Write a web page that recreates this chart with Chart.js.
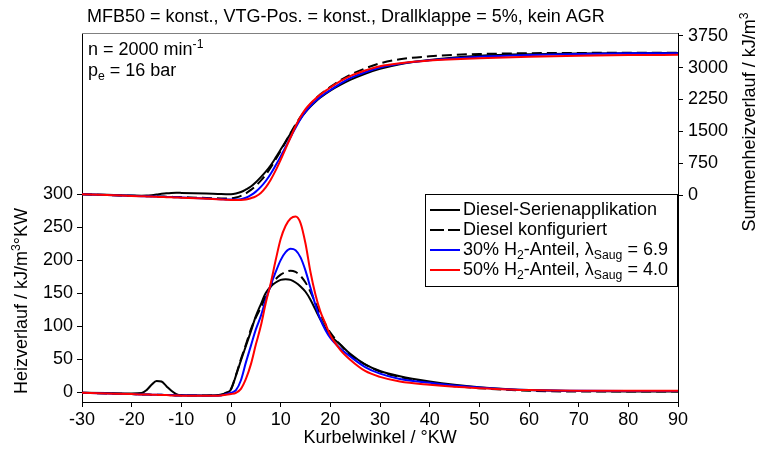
<!DOCTYPE html>
<html>
<head>
<meta charset="utf-8">
<script src="https://cdn.jsdelivr.net/npm/chart.js@4.4.0/dist/chart.umd.min.js"></script>
<style>
	html, body { margin: 0; padding: 0; background: #fff; }
</style>
</head>
<body>
<canvas id="mycanvas" width="760" height="454"></canvas>
<script>
// Kurbelwinkel / °KW
var angle = [-30,-25,-20,-18,-17,-16,-15,-14,-13,-12,-11,-10,-5,-2,-1,0,1,2,3,4,5,6,7,8,9,10,11,12,13,14,15,16,17,18,19,20,22,24,27,30,34,40,45,50,60,70,80,90];

// Heizverlauf / kJ/m3°KW (linke Achse)
var hrSerie = [-1,-1.5,-2,-1.5,3,11,17,16,9,2,-3,-4.5,-5,-4,-1,4,25,48,70,92,115,133,150,160,166,170,171,170,166,160,152,140,125,110,97,86,72,58,42,32,24,16,11,7.5,3,1.5,1,1];
var hrKonfig = [-1,-2,-3,-3.5,-3.5,-4,-4,-4,-4.5,-4.5,-5,-5,-5,-4,-1,5,26,50,72,95,113,128,145,160,171,178,182,184,182,176,166,152,135,118,103,90,72,56,42,31,23,14,9,6,2,1,1,1];
var hr30 = [-1,-2,-3,-3.5,-3.5,-4,-4,-4,-4.5,-4.5,-5,-5,-5.5,-5,-3,-1,3,18,45,70,95,115,140,162,182,200,212,217,215,204,184,158,132,110,94,82,66,54,38,28,20,14,10,7,3,2,1.5,1.5];
var hr50 = [-1,-2,-3,-3.5,-3.5,-4,-4,-4.5,-4.5,-5,-5,-5.5,-5.5,-5,-4,-3,-1,5,20,42,72,100,135,165,200,232,252,263,266,256,225,182,148,122,104,86,64,49,32,23,16,11,8,6,3,2,2,2];

// Summenheizverlauf / kJ/m3 (rechte Achse)
var sumSerie = [15,5,-10,-15,-14,-5,10,28,42,50,52,50,35,22,20,20,35,70,130,200,300,420,550,700,880,1070,1260,1450,1630,1800,1950,2080,2195,2295,2380,2455,2590,2710,2855,2970,3080,3180,3240,3280,3315,3330,3340,3345];
var sumKonfig = [15,0,-18,-24,-27,-30,-33,-36,-40,-43,-46,-50,-70,-80,-82,-80,-60,-20,40,120,220,340,480,650,840,1040,1250,1460,1660,1840,2000,2140,2265,2370,2460,2545,2700,2830,2980,3100,3195,3265,3300,3320,3338,3345,3350,3352];
var sum30 = [15,0,-20,-27,-30,-34,-37,-41,-44,-48,-52,-56,-80,-98,-104,-108,-108,-98,-65,-5,80,190,330,500,700,910,1130,1360,1580,1790,1960,2095,2210,2310,2395,2470,2620,2750,2890,3000,3090,3170,3220,3255,3295,3320,3335,3340];
var sum50 = [15,0,-22,-30,-34,-38,-42,-46,-50,-54,-58,-62,-88,-105,-112,-118,-120,-118,-105,-75,-30,50,180,360,580,830,1090,1360,1620,1840,2020,2155,2265,2365,2450,2530,2680,2800,2930,3030,3100,3165,3195,3220,3255,3280,3295,3300];

var xTicks = [-30,-20,-10,0,10,20,30,40,50,60,70,80,90];
var yTicks = [0,50,100,150,200,250,300];
var y2Ticks = [0,750,1500,2250,3000,3750];

var legendLabels = [
	[{t: "Diesel-Serienapplikation"}],
	[{t: "Diesel konfiguriert"}],
	[{t: "30% H"}, {t: "2", s: "sub"}, {t: "-Anteil, \u03bb"}, {t: "Saug", s: "sub"}, {t: " = 6.9"}],
	[{t: "50% H"}, {t: "2", s: "sub"}, {t: "-Anteil, \u03bb"}, {t: "Saug", s: "sub"}, {t: " = 4.0"}]
];
var titleText = "MFB50 = konst., VTG-Pos. = konst., Drallklappe = 5%, kein AGR";

var FONT = '"Liberation Sans", Arial, sans-serif';
var FS = 18;
var colors = ["#000000", "#000000", "#0000ff", "#ff0000"];
var dashes = [[], [10, 5], [], []];

function pts(ys) {
	var out = [];
	for (var i in angle) {
		out.push({x: angle[i], y: ys[i]});
	}
	return out;
}

function ds(label, ys, k, axis) {
	return {
		label: label,
		data: pts(ys),
		yAxisID: axis,
		borderColor: colors[k],
		borderWidth: 2,
		borderDash: dashes[k],
		pointRadius: 0,
		fill: false,
		cubicInterpolationMode: 'monotone',
		order: 3 - k
	};
}

function richWidth(ctx, parts, size) {
	var w = 0;
	parts.forEach(function(p) {
		ctx.font = (p.s ? size * 0.68 : size) + 'px ' + FONT;
		w += ctx.measureText(p.t).width;
	});
	return w;
}

function richText(ctx, parts, x, y, size) {
	ctx.textAlign = 'left';
	ctx.textBaseline = 'middle';
	parts.forEach(function(p) {
		var fs = p.s ? size * 0.68 : size;
		var dy = p.s == 'sub' ? size * 0.32 : (p.s == 'sup' ? -size * 0.32 : 0);
		ctx.font = fs + 'px ' + FONT;
		ctx.fillText(p.t, x, y + dy);
		x += ctx.measureText(p.t).width;
	});
	return x;
}

function rotText(ctx, parts, cx, cy, size) {
	var w = richWidth(ctx, parts, size);
	ctx.save();
	ctx.translate(cx, cy);
	ctx.rotate(-Math.PI / 2);
	richText(ctx, parts, -w / 2, 0, size);
	ctx.restore();
}

var textPlugin = {
	id: 'texte',
	afterDatasetsDraw: function(chart) {
		var ctx = chart.ctx;
		var a = chart.chartArea;
		ctx.save();
		ctx.fillStyle = '#000';

		// oberer Rahmen
		ctx.strokeStyle = '#808080';
		ctx.lineWidth = 1;
		ctx.beginPath();
		ctx.moveTo(a.left, a.top + 0.5);
		ctx.lineTo(a.right, a.top + 0.5);
		ctx.stroke();

		// Legende
		var lx = 425, ly = 194, lw = a.right - lx, lh = 93;
		ctx.fillStyle = '#fff';
		ctx.fillRect(lx, ly, lw, lh);
		ctx.strokeStyle = '#000';
		ctx.strokeRect(lx + 0.5, ly + 0.5, lw - 1, lh - 1);
		for (var i = 0; i < legendLabels.length; i++) {
			var ry = 210 + i * 20;
			ctx.strokeStyle = colors[i];
			ctx.lineWidth = 2;
			ctx.setLineDash(dashes[i].length ? [14, 4] : []);
			ctx.beginPath();
			ctx.moveTo(430, ry);
			ctx.lineTo(460, ry);
			ctx.stroke();
			ctx.setLineDash([]);
			ctx.fillStyle = '#000';
			richText(ctx, legendLabels[i], 463, ry, FS);
		}

		ctx.fillStyle = '#000';
		richText(ctx, [{t: titleText}], 87, 17, FS);
		richText(ctx, [{t: "n = 2000 min"}, {t: "-1", s: "sup"}], 88, 50, FS);
		richText(ctx, [{t: "p"}, {t: "e", s: "sub"}, {t: " = 16 bar"}], 88, 71, FS);

		// Achsentitel
		var xw = richWidth(ctx, [{t: "Kurbelwinkel / \u00b0KW"}], FS);
		richText(ctx, [{t: "Kurbelwinkel / \u00b0KW"}], (a.left + a.right) / 2 - xw / 2, 438, FS);
		rotText(ctx, [{t: "Heizverlauf / kJ/m"}, {t: "3", s: "sup"}, {t: "\u00b0KW"}], 22, 301, FS);
		rotText(ctx, [{t: "Summenheizverlauf / kJ/m"}, {t: "3", s: "sup"}], 750, 122, FS);
		ctx.restore();
	}
};

function fixTicks(list) {
	return function(scale) {
		scale.ticks = list.map(function(v) { return {value: v}; });
	};
}

var axisFont = {family: FONT, size: FS};

var ctx = document.getElementById('mycanvas');

var chart = new Chart(ctx, {
	type: 'line',
	data: {
		datasets: [
			ds("Diesel-Serienapplikation", hrSerie, 0, 'y'),
			ds("Diesel konfiguriert", hrKonfig, 1, 'y'),
			ds("30% H2-Anteil", hr30, 2, 'y'),
			ds("50% H2-Anteil", hr50, 3, 'y'),
			ds("Diesel-Serienapplikation", sumSerie, 0, 'y2'),
			ds("Diesel konfiguriert", sumKonfig, 1, 'y2'),
			ds("30% H2-Anteil", sum30, 2, 'y2'),
			ds("50% H2-Anteil", sum50, 3, 'y2')
		]
	},
	options: {
		responsive: false,
		animation: false,
		devicePixelRatio: 1,
		layout: {padding: {top: 33, left: 0, right: 0, bottom: 0}},
		plugins: {
			legend: {display: false},
			tooltip: {enabled: false}
		},
		scales: {
			x: {
				type: 'linear',
				position: 'bottom',
				min: -30,
				max: 90,
				afterBuildTicks: fixTicks(xTicks),
				afterFit: function(s) { s.height = 52; },
				ticks: {color: '#000', font: axisFont, padding: 2, maxRotation: 0, callback: function(v) { return String(v); }},
				grid: {drawOnChartArea: false, drawTicks: true, tickLength: 5, color: '#000'},
				border: {color: '#000', width: 1}
			},
			y: {
				type: 'linear',
				position: 'left',
				min: -15,
				max: 544,
				afterBuildTicks: fixTicks(yTicks),
				afterFit: function(s) { s.width = 82; },
				ticks: {color: '#000', font: axisFont, padding: 4, callback: function(v) { return String(v); }},
				grid: {drawOnChartArea: false, drawTicks: true, tickLength: 5, color: '#000'},
				border: {color: '#000', width: 1}
			},
			y2: {
				type: 'linear',
				position: 'right',
				min: -4873,
				max: 3814,
				afterBuildTicks: fixTicks(y2Ticks),
				afterFit: function(s) { s.width = 82; },
				ticks: {color: '#000', font: axisFont, padding: 5, callback: function(v) { return String(v); }},
				grid: {drawOnChartArea: false, drawTicks: true, tickLength: 5, color: '#000'},
				border: {color: '#000', width: 1}
			}
		}
	},
	plugins: [textPlugin]
});
</script>
</body>
</html>
